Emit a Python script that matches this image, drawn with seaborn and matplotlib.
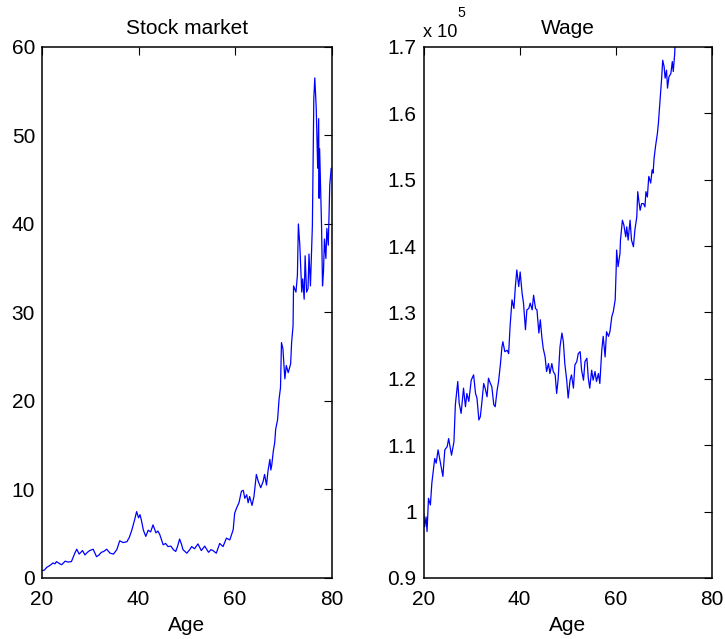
import matplotlib
matplotlib.use("Agg")
import matplotlib.pyplot as plt
from matplotlib import font_manager
from matplotlib.ticker import FuncFormatter
import pandas as pd
import seaborn as sns

# Simulated life-cycle paths: stock market index and wage by age
stock_age = [20.0, 20.5, 21.0, 21.6, 22.3, 22.7, 23.0, 23.7, 24.1, 24.8, 25.4, 26.1,
             26.8, 27.2, 27.7, 28.4, 28.9, 29.4, 29.9, 30.6, 31.3, 31.8, 32.3, 32.8,
             33.4, 34.1, 34.8, 35.5, 36.1, 36.8, 37.6, 38.1, 38.6, 39.2, 39.6, 40.0,
             40.3, 40.6, 41.0, 41.5, 42.0, 42.5, 43.0, 43.6, 44.0, 44.4, 45.1, 45.6,
             46.1, 46.7, 47.2, 47.7, 48.1, 48.5, 48.9, 49.2, 49.6, 50.0, 50.6, 51.0,
             51.6, 52.3, 53.0, 53.7, 54.5, 55.0, 55.4, 56.1, 56.8, 57.5, 58.2, 58.9,
             59.6, 59.9, 60.3, 60.8, 61.3, 61.7, 62.0, 62.4, 62.7, 63.0, 63.5, 63.9,
             64.4, 64.8, 65.3, 65.8, 66.1, 66.5, 66.8, 67.2, 67.4, 67.6, 67.9, 68.2,
             68.4, 68.8, 69.1, 69.4, 69.6, 69.9, 70.3, 70.6, 71.0, 71.5, 71.7, 72.0,
             72.1, 72.6, 72.9, 73.1, 73.4, 73.8, 74.0, 74.3, 74.5, 74.8, 75.1, 75.3,
             75.6, 76.0, 76.3, 76.5, 76.8, 77.1, 77.3, 77.4, 77.5, 77.9, 78.1, 78.3,
             78.5, 78.8, 79.0, 79.3, 79.6, 79.9]
stock_value = [0.8, 0.9, 1.2, 1.4, 1.7, 1.6, 1.85, 1.6, 1.5, 1.9, 1.8, 1.85,
               2.8, 3.25, 2.7, 3.1, 2.6, 2.9, 3.1, 3.25, 2.4, 2.6, 2.9, 3.0,
               3.25, 2.8, 2.7, 3.2, 4.2, 4.0, 4.1, 4.6, 5.4, 6.6, 7.5, 6.8,
               7.15, 6.5, 5.4, 4.7, 5.4, 5.2, 6.0, 5.1, 5.3, 4.9, 3.75, 3.9,
               3.55, 3.6, 3.2, 3.0, 3.6, 4.4, 3.8, 3.2, 3.0, 2.8, 3.2, 3.55,
               3.3, 3.85, 3.1, 3.6, 2.9, 3.2, 3.1, 2.8, 3.9, 3.55, 4.5, 4.3,
               5.45, 7.3, 7.9, 8.5, 9.8, 9.9, 9.0, 9.4, 8.5, 9.2, 8.2, 9.2,
               11.7, 10.9, 10.2, 10.9, 11.7, 10.5, 12.05, 13.4, 12.2, 12.8, 14.3, 15.3,
               16.8, 17.9, 20.2, 21.5, 26.6, 25.9, 22.5, 24.0, 23.2, 24.2, 26.6, 28.5,
               33.0, 32.3, 34.2, 40.0, 37.6, 32.3, 33.8, 31.5, 36.4, 32.3, 32.7, 36.6,
               33.0, 39.8, 54.2, 56.5, 53.1, 46.3, 51.9, 42.9, 48.5, 39.8, 33.0, 34.6,
               38.3, 36.1, 39.5, 37.6, 44.4, 46.3]

wage_age = [20.0, 20.2, 20.5, 20.7, 21.0, 21.4, 21.7, 22.3, 22.6, 23.0, 23.5, 24.0,
            24.4, 24.9, 25.2, 25.8, 26.3, 26.6, 27.1, 27.4, 27.8, 28.3, 28.7, 29.0,
            29.4, 29.9, 30.4, 30.8, 31.1, 31.5, 31.8, 32.1, 32.5, 32.8, 33.2, 33.5,
            33.9, 34.2, 34.6, 34.9, 35.3, 35.6, 36.0, 36.3, 36.5, 36.9, 37.4, 37.7,
            38.0, 38.4, 38.8, 39.1, 39.4, 39.8, 40.1, 40.5, 40.8, 41.2, 41.5, 41.9,
            42.2, 42.6, 42.9, 43.3, 43.6, 44.0, 44.3, 44.6, 44.9, 45.3, 45.6, 46.0,
            46.3, 46.7, 47.0, 47.4, 47.7, 48.0, 48.4, 48.8, 49.1, 49.4, 49.8, 50.1,
            50.5, 50.8, 51.2, 51.5, 51.9, 52.2, 52.6, 52.9, 53.3, 53.6, 54.0, 54.3,
            54.6, 55.0, 55.3, 55.7, 56.0, 56.4, 56.7, 57.1, 57.4, 57.8, 58.1, 58.5,
            58.8, 59.2, 59.5, 59.9, 60.1, 60.2, 60.5, 60.9, 61.0, 61.4, 61.7, 62.1,
            62.3, 62.6, 63.0, 63.3, 63.7, 64.0, 64.4, 64.6, 64.9, 65.1, 65.4, 65.8,
            66.1, 66.3, 66.6, 66.9, 67.3, 67.6, 67.8, 68.0, 68.3, 68.7, 68.9, 69.2,
            69.6, 69.8, 70.1, 70.3, 70.6, 70.8, 71.1, 71.5, 71.8, 72.0, 72.3, 72.4]
# wage in units of 10^5
wage_value = [0.997, 0.977, 0.992, 0.970, 1.020, 1.010, 1.043, 1.080, 1.073, 1.093, 1.073, 1.053,
              1.093, 1.098, 1.110, 1.085, 1.105, 1.161, 1.196, 1.163, 1.148, 1.186, 1.158, 1.178,
              1.166, 1.198, 1.206, 1.178, 1.171, 1.138, 1.143, 1.163, 1.193, 1.186, 1.173, 1.201,
              1.193, 1.188, 1.161, 1.158, 1.183, 1.196, 1.223, 1.248, 1.256, 1.241, 1.243, 1.238,
              1.279, 1.319, 1.306, 1.339, 1.364, 1.339, 1.361, 1.329, 1.314, 1.274, 1.304, 1.306,
              1.314, 1.304, 1.326, 1.306, 1.304, 1.269, 1.289, 1.264, 1.246, 1.233, 1.211, 1.223,
              1.208, 1.223, 1.211, 1.206, 1.178, 1.198, 1.248, 1.269, 1.256, 1.223, 1.198, 1.171,
              1.198, 1.206, 1.186, 1.221, 1.226, 1.238, 1.241, 1.213, 1.198, 1.226, 1.231, 1.201,
              1.186, 1.213, 1.198, 1.211, 1.196, 1.208, 1.193, 1.243, 1.264, 1.233, 1.271, 1.264,
              1.271, 1.294, 1.301, 1.319, 1.364, 1.394, 1.369, 1.389, 1.409, 1.439, 1.432, 1.414,
              1.429, 1.409, 1.439, 1.409, 1.399, 1.424, 1.444, 1.482, 1.464, 1.454, 1.464, 1.464,
              1.459, 1.482, 1.474, 1.505, 1.495, 1.515, 1.510, 1.532, 1.550, 1.570, 1.585, 1.615,
              1.655, 1.680, 1.670, 1.653, 1.665, 1.638, 1.655, 1.660, 1.678, 1.663, 1.690, 1.711]

x_ticks = [20, 40, 60, 80]
stock_ticks = [0, 10, 20, 30, 40, 50, 60]
wage_ticks = [0.9, 1.0, 1.1, 1.2, 1.3, 1.4, 1.5, 1.6, 1.7]

sns.set_theme(style="white")
available = {f.name for f in font_manager.fontManager.ttflist}
if "Liberation Sans Narrow" in available:
    family, fsize = "Liberation Sans Narrow", 18
else:
    family, fsize = "Liberation Sans", 15
plt.rcParams["font.family"] = [family, "DejaVu Sans"]

LINE = "#0000ff"

fig = plt.figure(figsize=(7.25, 6.39), dpi=100)
fig.patch.set_facecolor("white")
ax1 = fig.add_axes([0.0579, 0.0955, 0.3996, 0.8310])
ax2 = fig.add_axes([0.5844, 0.0955, 0.3972, 0.8310])

stock_df = pd.DataFrame({"Age": stock_age, "Value": stock_value})
wage_df = pd.DataFrame({"Age": wage_age, "Value": wage_value})

sns.lineplot(data=stock_df, x="Age", y="Value", ax=ax1, color=LINE,
             linewidth=0.9, estimator=None, sort=False)
sns.lineplot(data=wage_df, x="Age", y="Value", ax=ax2, color=LINE,
             linewidth=0.9, estimator=None, sort=False)

fmt = FuncFormatter(lambda v, p: "%g" % round(v, 6))
for ax, yt, ylim, title in [(ax1, stock_ticks, (0, 60), "Stock market"),
                            (ax2, wage_ticks, (0.9, 1.7), "Wage")]:
    ax.set_xlim(20, 80)
    ax.set_ylim(*ylim)
    ax.set_xticks(x_ticks)
    ax.set_yticks(yt)
    ax.yaxis.set_major_formatter(fmt)
    ax.set_xlabel("Age", fontsize=fsize, labelpad=5, color="black")
    ax.set_ylabel("")
    ax.set_title(title, fontsize=fsize, pad=9, color="black")
    ax.tick_params(direction="in", length=6, width=0.8, top=True, right=True,
                   labelsize=fsize, colors="black")
    ax.tick_params(axis="x", pad=9)
    ax.tick_params(axis="y", pad=5)
    for s in ax.spines.values():
        s.set_visible(True)
        s.set_color("black")
        s.set_linewidth(1.1)
    ax.grid(False)
    ax.set_facecolor("white")

# scale factor for the wage axis
ax2.text(-0.003, 1.012, "x 10", transform=ax2.transAxes, ha="left", va="bottom",
         fontsize=fsize * 0.87, color="black")
ax2.text(0.118, 1.05, "5", transform=ax2.transAxes, ha="left", va="bottom",
         fontsize=fsize * 0.68, color="black")

fig.savefig("out.png", dpi=100, facecolor="white")
